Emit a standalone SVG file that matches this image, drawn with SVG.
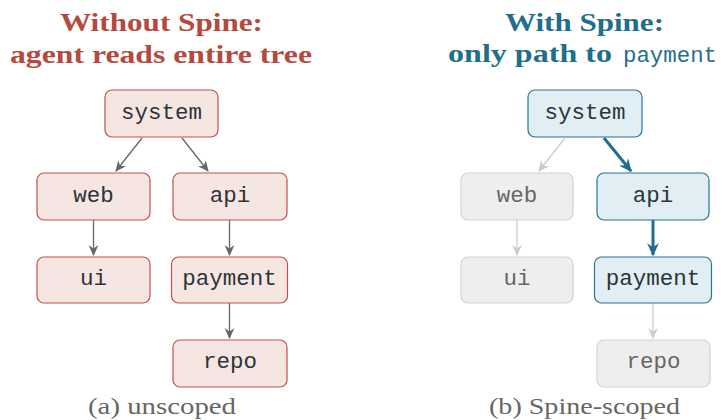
<svg xmlns="http://www.w3.org/2000/svg" width="722" height="420" viewBox="0 0 722 420">
<style>
.tl{font-family:"Liberation Serif",serif;font-weight:bold;font-size:25px;fill:#b5493d}
.tr{font-family:"Liberation Serif",serif;font-weight:bold;font-size:25px;fill:#1f6e8c}
.trm{font-family:"Liberation Mono",monospace;font-size:22px;fill:#1f6e8c}
.cap{font-family:"Liberation Serif",serif;font-size:24px;fill:#666666}
.red rect{fill:#f6e6e2;stroke:#c0504a;stroke-width:1.2}
.blue rect{fill:#e1eff4;stroke:#2a7393;stroke-width:1.2}
.grey rect{fill:#eeeeee;stroke:#d2d2d2;stroke-width:1.2}
.n text{font-family:"Liberation Mono",monospace;font-size:22.5px;text-anchor:middle}
.red text,.blue text{fill:#2b343a}
.grey text{fill:#666666}
.ag{stroke:#666666;stroke-width:1.3;fill:none}
.al{stroke:#cccccc;stroke-width:1.3;fill:none}
.ab{stroke:#1f6e8c;stroke-width:3;fill:none}
</style>
<defs>
<marker id="mg" viewBox="0 0 10 10" refX="9" refY="5" markerWidth="11" markerHeight="11" markerUnits="userSpaceOnUse" orient="auto"><path d="M0,0.5 L10,5 L0,9.5 L3,5 z" fill="#666666"/></marker>
<marker id="ml" viewBox="0 0 10 10" refX="9" refY="5" markerWidth="11" markerHeight="11" markerUnits="userSpaceOnUse" orient="auto"><path d="M0,0.5 L10,5 L0,9.5 L3,5 z" fill="#cccccc"/></marker>
<marker id="mb" viewBox="0 0 10 10" refX="9" refY="5" markerWidth="13" markerHeight="13" markerUnits="userSpaceOnUse" orient="auto"><path d="M0,0.5 L10,5 L0,9.5 L3,5 z" fill="#1f6e8c"/></marker>
</defs>

<g id="titles">
<text class="tl" x="60" y="31" textLength="203" lengthAdjust="spacingAndGlyphs">Without Spine:</text>
<text class="tl" x="10" y="63" textLength="302" lengthAdjust="spacingAndGlyphs">agent reads entire tree</text>
<text class="tr" x="505" y="31" textLength="159" lengthAdjust="spacingAndGlyphs">With Spine:</text>
<text class="tr" x="448" y="62" textLength="164" lengthAdjust="spacingAndGlyphs">only path to</text>
<text class="trm" x="623" y="62" textLength="94" lengthAdjust="spacingAndGlyphs">payment</text>
</g>

<g id="connectors">
<line class="ag" x1="142" y1="138" x2="116" y2="171" marker-end="url(#mg)"/>
<line class="ag" x1="182" y1="138" x2="208" y2="171" marker-end="url(#mg)"/>
<line class="ag" x1="93.5" y1="220" x2="93.5" y2="255" marker-end="url(#mg)"/>
<line class="ag" x1="229.5" y1="220" x2="229.5" y2="255" marker-end="url(#mg)"/>
<line class="ag" x1="229.5" y1="303" x2="229.5" y2="338" marker-end="url(#mg)"/>
<line class="al" x1="565" y1="138" x2="539" y2="171" marker-end="url(#ml)"/>
<line class="ab" x1="604" y1="138" x2="631" y2="171" marker-end="url(#mb)"/>
<line class="al" x1="517" y1="220" x2="517" y2="255" marker-end="url(#ml)"/>
<line class="ab" x1="653" y1="220" x2="653" y2="255" marker-end="url(#mb)"/>
<line class="al" x1="653" y1="303" x2="653" y2="338" marker-end="url(#ml)"/>
</g>

<g id="a-system" class="n red"><rect x="105" y="90" width="113" height="47" rx="7"/><text x="161.5" y="119">system</text></g>
<g id="a-web" class="n red"><rect x="37" y="173" width="113" height="47" rx="7"/><text x="93.5" y="202">web</text></g>
<g id="a-api" class="n red"><rect x="173" y="173" width="114" height="47" rx="7"/><text x="230" y="202">api</text></g>
<g id="a-ui" class="n red"><rect x="37" y="257" width="113" height="46" rx="7"/><text x="93.5" y="285">ui</text></g>
<g id="a-payment" class="n red"><rect x="171.5" y="257" width="116" height="46" rx="7"/><text x="229.5" y="285">payment</text></g>
<g id="a-repo" class="n red"><rect x="173" y="340" width="114" height="47" rx="7"/><text x="230" y="368">repo</text></g>

<g id="b-system" class="n blue"><rect x="528" y="90" width="114" height="47" rx="7"/><text x="585" y="119">system</text></g>
<g id="b-web" class="n grey"><rect x="461" y="173" width="112" height="47" rx="7"/><text x="517" y="202">web</text></g>
<g id="b-api" class="n blue"><rect x="597" y="173" width="112" height="47" rx="7"/><text x="653" y="202">api</text></g>
<g id="b-ui" class="n grey"><rect x="461" y="257" width="112" height="46" rx="7"/><text x="517" y="285">ui</text></g>
<g id="b-payment" class="n blue"><rect x="594.5" y="257" width="117" height="46" rx="7"/><text x="653" y="285">payment</text></g>
<g id="b-repo" class="n grey"><rect x="597" y="340" width="113" height="47" rx="7"/><text x="653.5" y="368">repo</text></g>

<g id="captions">
<text class="cap" x="88" y="414" textLength="148" lengthAdjust="spacingAndGlyphs">(a) unscoped</text>
<text class="cap" x="489" y="414" textLength="191" lengthAdjust="spacingAndGlyphs">(b) Spine-scoped</text>
</g>
</svg>
